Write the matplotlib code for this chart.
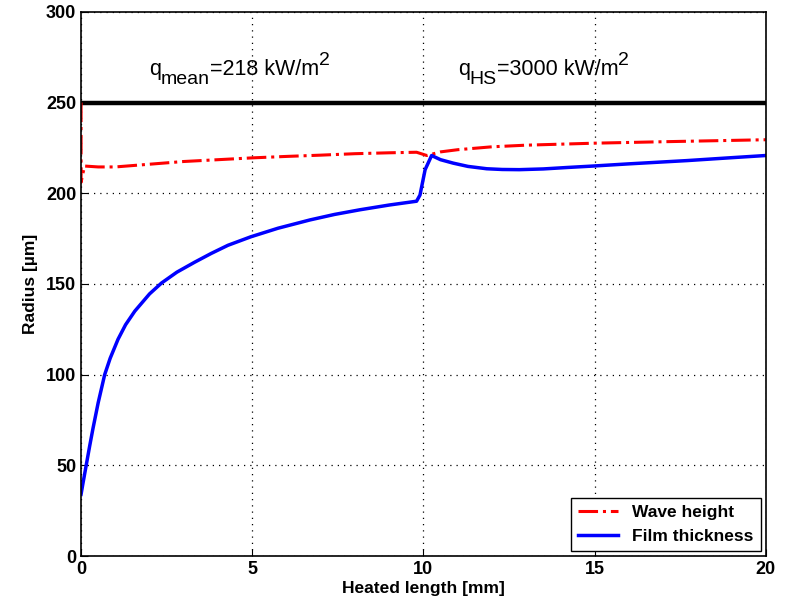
import numpy as np
import matplotlib
matplotlib.use("Agg")
import matplotlib.pyplot as plt
import matplotlib.transforms as mtransforms

plt.rcParams['font.family'] = ['Liberation Sans', 'DejaVu Sans']

# wave height (red dash-dot)
wave_x = [0, 0, 0.1, 0.5, 1, 2, 3, 4, 5, 6, 7, 8, 9, 9.8, 10.1, 10.5, 11, 12, 13, 15, 17, 20]
wave_y = [250, 206, 215, 214.5, 214.5, 216, 217.5, 218.5, 219.5, 220.3, 221, 221.8, 222.3, 222.6,
          220.8, 222.8, 224, 225.6, 226.5, 227.6, 228.4, 229.5]

# film thickness (blue)
film_x = [0, 0.05, 0.15, 0.25, 0.35, 0.5, 0.69, 0.85, 1.08, 1.3, 1.57, 2.0, 2.35, 2.8, 3.32,
          3.8, 4.29, 4.96, 5.75, 6.69, 7.4, 8.15, 9.0, 9.8,
          9.9, 10.05, 10.24, 10.5, 10.87, 11.3, 11.85, 12.3, 12.8, 13.5, 14.2, 14.96,
          16.0, 17.7, 19.0, 20]
film_y = [34, 39.5, 50, 60.5, 70.5, 84.5, 100, 109, 119.5, 127.5, 135, 144.5, 150.5, 156.5, 162,
          166.8, 171.3, 176, 180.7, 185.3, 188.3, 190.9, 193.5, 195.6,
          199, 213, 220.8, 218.5, 216.6, 214.8, 213.5, 213.1, 213, 213.4, 214.2, 215,
          216.2, 218, 219.6, 220.8]

limit_x = [0, 20]
limit_y = [250, 250]

fig = plt.figure(figsize=(7.87, 6.08), dpi=100)
ax = fig.add_axes([0.103, 0.0855, 0.870, 0.895])

ax.plot(limit_x, limit_y, color='black', lw=3.2)
ax.plot(wave_x, wave_y, color='red', ls='-.', lw=2.2, label='Wave height')
ax.plot(film_x, film_y, color='blue', lw=2.5, label='Film thickness')

ax.set_xlim(0, 20)
ax.set_ylim(0, 300)
ax.set_xticks([0, 5, 10, 15, 20])
ax.set_yticks(np.arange(0, 301, 50))
ax.grid(True, color='black', ls=(0, (1, 4)), lw=0.9)
ax.tick_params(direction='in', labelsize=13, length=5)
for lab in ax.get_xticklabels() + ax.get_yticklabels():
    lab.set_fontweight('bold')
for s in ax.spines.values():
    s.set_linewidth(1.2)

ax.set_xlabel('Heated length [mm]', fontsize=12.5, fontweight='bold', labelpad=2)
ax.set_ylabel('Radius [\u00b5m]', fontsize=12.5, fontweight='bold', labelpad=6)


def rich_text(x, y, pieces):
    # pieces: (text, fontsize, vertical offset in pixels)
    r = fig.canvas.get_renderer()
    dx = 0
    for s, size, dy in pieces:
        tr = mtransforms.offset_copy(ax.transData, fig=fig, x=dx, y=dy, units='dots')
        t = ax.text(x, y, s, fontsize=size, va='baseline', ha='left', transform=tr)
        dx += t.get_window_extent(r).width


fig.canvas.draw()
rich_text(1.98, 265.3, [('q', 15.5, 0), ('mean', 14, -9), ('=218 kW/m', 15.5, 0), ('2', 14, 10)])
rich_text(11.0, 265.3, [('q', 15.5, 0), ('HS', 14, -9), ('=3000 kW/m', 15.5, 0), ('2', 14, 10)])

leg = ax.legend(loc='lower right', fontsize=12.5, fancybox=False, edgecolor='black',
                framealpha=1, borderaxespad=0.3, handlelength=2.3)
leg.get_frame().set_linewidth(1.0)
for t in leg.get_texts():
    t.set_fontweight('bold')

fig.savefig('out.png', dpi=100)
